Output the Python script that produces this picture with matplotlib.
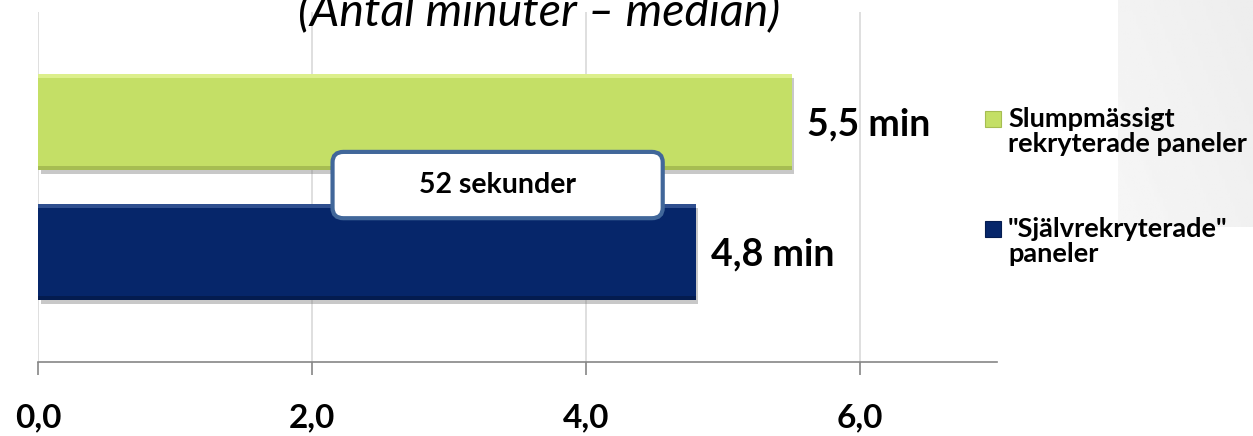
import matplotlib
matplotlib.use("Agg")
import matplotlib.pyplot as plt
import matplotlib.patheffects as pe
from matplotlib.patches import FancyBboxPatch, Rectangle
import numpy as np

plt.rcParams['font.family'] = ['Lato', 'DejaVu Sans']

# data
series_labels = ['"Självrekryterade"\npaneler', 'Slumpmässigt\nrekryterade paneler']
minutes = [4.8, 5.5]
value_labels = ['4,8 min', '5,5 min']
bar_colors = ['#06266a', '#c4df66']
top_colors = ['#2f4f8f', '#dcef8c']
bottom_colors = ['#041c50', '#a6bd52']
x_ticks = [0, 2, 4, 6]
x_tick_labels = ['0,0', '2,0', '4,0', '6,0']
title = '(Antal minuter – median)'
callout = '52 sekunder'

W, H = 1253, 436
fig = plt.figure(figsize=(W / 100, H / 100), dpi=100)
ax = fig.add_axes([38 / W, 74 / H, 959 / W, 350 / H])

# light grey panel at the right edge
bg = fig.add_axes([1118 / W, 1 - 227 / H, (W - 1118) / W, 227 / H], zorder=-1)
gx, gy = np.meshgrid(np.linspace(0, 1, 50), np.linspace(0, 1, 50))
grad = 0.965 - 0.035 * (gx * 0.6 + (1 - gy) * 0.4)
bg.imshow(grad, cmap='gray', vmin=0, vmax=1, aspect='auto', extent=[0, 1, 0, 1])
bg.axis('off')

ypos = np.arange(len(minutes))
bh = 0.74
edge = 0.035
shadow = [pe.SimplePatchShadow(offset=(2, -3), shadow_rgbFace='#777777', alpha=0.4), pe.Normal()]
bars = ax.barh(ypos, minutes, height=bh, color=bar_colors, zorder=3)
for b in bars:
    b.set_path_effects(shadow)
ax.barh(ypos + bh / 2 - edge / 2, minutes, height=edge, color=top_colors, zorder=4)
ax.barh(ypos - bh / 2 + edge / 2, minutes, height=edge, color=bottom_colors, zorder=4)

for y, v, lab in zip(ypos, minutes, value_labels):
    ax.annotate(lab, (v, y), xytext=(11, -10), textcoords='offset points',
                ha='left', va='baseline', fontsize=27, fontweight='bold', color='black')

ax.set_xlim(0, 7)
ax.set_ylim(-0.846, 1.846)
ax.set_xticks(x_ticks)
ax.set_xticklabels(x_tick_labels, fontsize=24, fontweight='bold')
ax.set_yticks([])
ax.grid(axis='x', color='#d9d9d9', lw=1.2, zorder=0)
ax.set_axisbelow(True)
for s in ['top', 'right', 'left']:
    ax.spines[s].set_visible(False)
ax.spines['bottom'].set_color('#868686')
ax.spines['bottom'].set_linewidth(1.2)
ax.tick_params(axis='x', direction='out', length=9.4, width=1.2, color='#868686', pad=20)

# callout box between the bars
box = FancyBboxPatch((2.15, 0.26), 2.41, 0.51, boxstyle='round,pad=0,rounding_size=0.08',
                     fc='white', ec='#41679a', lw=3, zorder=6)
ax.add_patch(box)
ax.text(2.15 + 2.41 / 2, 0.26 + 0.51 / 2, callout, ha='center', va='center',
        fontsize=20.5, fontweight='bold', zorder=7)

fig.text(539 / W, 1 - 25 / H, title, ha='center', va='baseline', fontsize=33.5,
         style='italic', color='black')

# legend, green entry on top
legend_rows = [(1, 127), (0, 237)]
for idx, base in legend_rows:
    fig.add_artist(Rectangle((985 / W, 1 - (base) / H), 16 / W, 16 / H,
                             transform=fig.transFigure, fc=bar_colors[idx],
                             ec=bottom_colors[idx], lw=0.8))
    for k, line in enumerate(series_labels[idx].split('\n')):
        fig.text(1008 / W, 1 - (base + 25 * k) / H, line, ha='left', va='baseline',
                 fontsize=19.5, fontweight='bold', color='black')

fig.savefig('out.png', dpi=100)
